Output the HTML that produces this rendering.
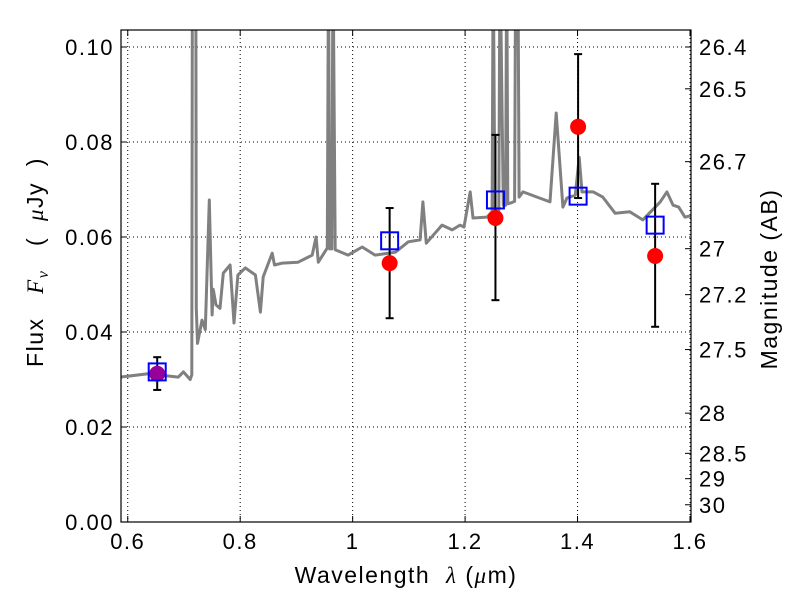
<!DOCTYPE html>
<html><head><meta charset="utf-8"><style>
body{margin:0;background:#fff;}
svg{display:block;font-family:"Liberation Sans",sans-serif;}
.tk{font-size:22px;letter-spacing:1.5px;}
.ttl{font-size:23px;letter-spacing:1.5px;}
</style></head><body>
<svg id="chart" width="800" height="600">
<rect x="0" y="0" width="800" height="600" fill="#fff"/>
<g id="grid"></g>
<g id="plot"></g>
<g id="axes"></g>
<text class="ttl" x="406" y="583" text-anchor="middle" xml:space="preserve">Wavelength  <tspan font-style="italic" font-family="Liberation Serif, serif">λ</tspan> (<tspan font-style="italic" font-family="Liberation Serif, serif">μ</tspan>m)</text>
<text class="ttl" transform="translate(43,262) rotate(-90)" text-anchor="middle" xml:space="preserve">Flux   <tspan font-style="italic" font-family="Liberation Serif, serif">F</tspan><tspan font-style="italic" font-family="Liberation Serif, serif" font-size="16" dy="5">ν</tspan><tspan dy="-5">   (  </tspan><tspan font-style="italic" font-family="Liberation Serif, serif">μ</tspan>Jy  )</text>
<text class="ttl" transform="translate(777,279) rotate(-90)" text-anchor="middle">Magnitude (AB)</text>
</svg>
<script>
const xTicks=[0.6,0.8,1.0,1.2,1.4,1.6];
const xTickLabels=["0.6","0.8","1","1.2","1.4","1.6"];
const yTicks=[0,0.02,0.04,0.06,0.08,0.10];
const yTickLabels=["0.00","0.02","0.04","0.06","0.08","0.10"];
const magTicks=[26.4,26.5,26.7,27,27.2,27.5,28,28.5,29,30];
const magTickLabels=["26.4","26.5","26.7","27","27.2","27.5","28","28.5","29","30"];
const specWave=[0.587,0.636,0.690,0.699,0.711,0.714,0.715,0.721,0.722,0.724,0.732,0.738,0.745,0.750,0.752,0.757,0.764,0.770,0.782,0.789,0.796,0.809,0.827,0.836,0.841,0.857,0.861,0.875,0.903,0.928,0.935,0.939,0.955,0.957,0.959,0.963,0.965,0.969,0.992,1.017,1.040,1.076,1.099,1.120,1.125,1.131,1.159,1.177,1.191,1.198,1.209,1.214,1.239,1.248,1.250,1.253,1.260,1.262,1.268,1.272,1.274,1.276,1.282,1.288,1.290,1.294,1.296,1.303,1.328,1.351,1.362,1.374,1.381,1.396,1.403,1.408,1.428,1.445,1.467,1.493,1.516,1.547,1.559,1.570,1.580,1.591,1.603];
const specFlux=[0.0305,0.0312,0.0305,0.0316,0.0300,0.0310,0.12,0.12,0.045,0.0376,0.0425,0.0405,0.0678,0.0436,0.049,0.0457,0.045,0.0524,0.0541,0.0419,0.052,0.0535,0.052,0.0442,0.0516,0.0566,0.0541,0.0545,0.0547,0.0562,0.0600,0.0547,0.0577,0.12,0.0575,0.0575,0.12,0.0573,0.0562,0.0579,0.0562,0.0568,0.0590,0.0594,0.0674,0.0587,0.0625,0.0615,0.0625,0.0621,0.0695,0.0640,0.0642,0.0653,0.12,0.0655,0.0655,0.12,0.0667,0.0667,0.12,0.0670,0.0672,0.0675,0.12,0.12,0.0684,0.0695,0.0684,0.0674,0.0861,0.0663,0.0682,0.0688,0.0768,0.0695,0.0695,0.0684,0.0650,0.0653,0.0636,0.0674,0.0695,0.0667,0.0663,0.0642,0.0645];
const obsWave=[0.6524,1.0658,1.254,1.401,1.538];
const obsFlux=[0.0312,0.0545,0.064,0.0832,0.056];
const obsErrLow=[0.0278,0.0429,0.0467,0.0682,0.0411];
const obsErrHigh=[0.0347,0.0661,0.0815,0.0985,0.0712];
const modelFlux=[0.0316,0.0592,0.0678,0.0686,0.0625];
const obsColors=["#990099","#ff0000","#ff0000","#ff0000","#ff0000"];

const L=121,R=691,T=30,B=522;
const xMin=0.588,xMax=1.6018,yMin=0,yMax=0.10358;
const sx=v=>L+(v-xMin)/(xMax-xMin)*(R-L);
const sy=v=>B-(v-yMin)/(yMax-yMin)*(B-T);
const magToFlux=m=>Math.pow(10,(23.9-m)/2.5);
const NS="http://www.w3.org/2000/svg";
function mk(tag,parent,attrs){const e=document.createElementNS(NS,tag);for(const k in attrs)e.setAttribute(k,attrs[k]);parent.appendChild(e);return e;}
const grid=document.getElementById('grid'),plot=document.getElementById('plot'),axes=document.getElementById('axes');
const clip=mk('clipPath',document.getElementById('chart'),{id:'clp'});
mk('rect',clip,{x:L,y:T,width:R-L,height:B-T});
plot.setAttribute('clip-path','url(#clp)');

xTicks.forEach((t,i)=>{const x=sx(t);
 const g=mk('line',grid,{x1:x,x2:x,y1:T,y2:B,stroke:'#000','stroke-width':1,'stroke-dasharray':'1,3'});
 
 
 mk('line',axes,{x1:x,x2:x,y1:B,y2:B-6,stroke:'#000'});
 mk('line',axes,{x1:x,x2:x,y1:T,y2:T+6,stroke:'#000'});
 const tx=mk('text',axes,{x:x,y:B+27,'class':'tk','text-anchor':'middle'});tx.textContent=xTickLabels[i];
 
 
});
yTicks.forEach((t,i)=>{const y=sy(t);
 if(t>0){const g=mk('line',grid,{x1:L,x2:R,y1:y,y2:y,stroke:'#000','stroke-width':1,'stroke-dasharray':'1,3'});
 
 }
 mk('line',axes,{x1:L,x2:L+6,y1:y,y2:y,stroke:'#000'});
 const tx=mk('text',axes,{x:L-7,y:y+8,'class':'tk','text-anchor':'end'});tx.textContent=yTickLabels[i];
 
 
});
magTicks.forEach((m,i)=>{const y=sy(magToFlux(m));
 mk('line',axes,{x1:R,x2:R-6,y1:y,y2:y,stroke:'#000'});
 const tx=mk('text',axes,{x:R+8,y:y+8,'class':'tk','text-anchor':'start'});tx.textContent=magTickLabels[i];
 
 
});
const frame=mk('rect',axes,{x:L,y:T,width:R-L,height:B-T,fill:'none',stroke:'#000','stroke-width':1.2});



const pts=specWave.map((w,i)=>sx(w).toFixed(1)+','+sy(specFlux[i]).toFixed(1)).join(' ');
const spec=mk('polyline',plot,{points:pts,fill:'none',stroke:'#808080','stroke-width':3,'stroke-linejoin':'round'});



obsWave.forEach((w,i)=>{const x=sx(w);
 const eb=mk('g',plot,{});
 
 
 mk('line',eb,{x1:x,x2:x,y1:sy(obsErrLow[i]),y2:sy(obsErrHigh[i]),stroke:'#000','stroke-width':2});
 mk('line',eb,{x1:x-4,x2:x+4,y1:sy(obsErrLow[i]),y2:sy(obsErrLow[i]),stroke:'#000','stroke-width':2});
 mk('line',eb,{x1:x-4,x2:x+4,y1:sy(obsErrHigh[i]),y2:sy(obsErrHigh[i]),stroke:'#000','stroke-width':2});
 const c=mk('circle',plot,{cx:x,cy:sy(obsFlux[i]),r:8,fill:obsColors[i]});
 
 
 const s=mk('rect',plot,{x:x-8.5,y:sy(modelFlux[i])-8.5,width:17,height:17,fill:'none',stroke:'#0000ff','stroke-width':2});
 
 
});
</script>
</body></html>
